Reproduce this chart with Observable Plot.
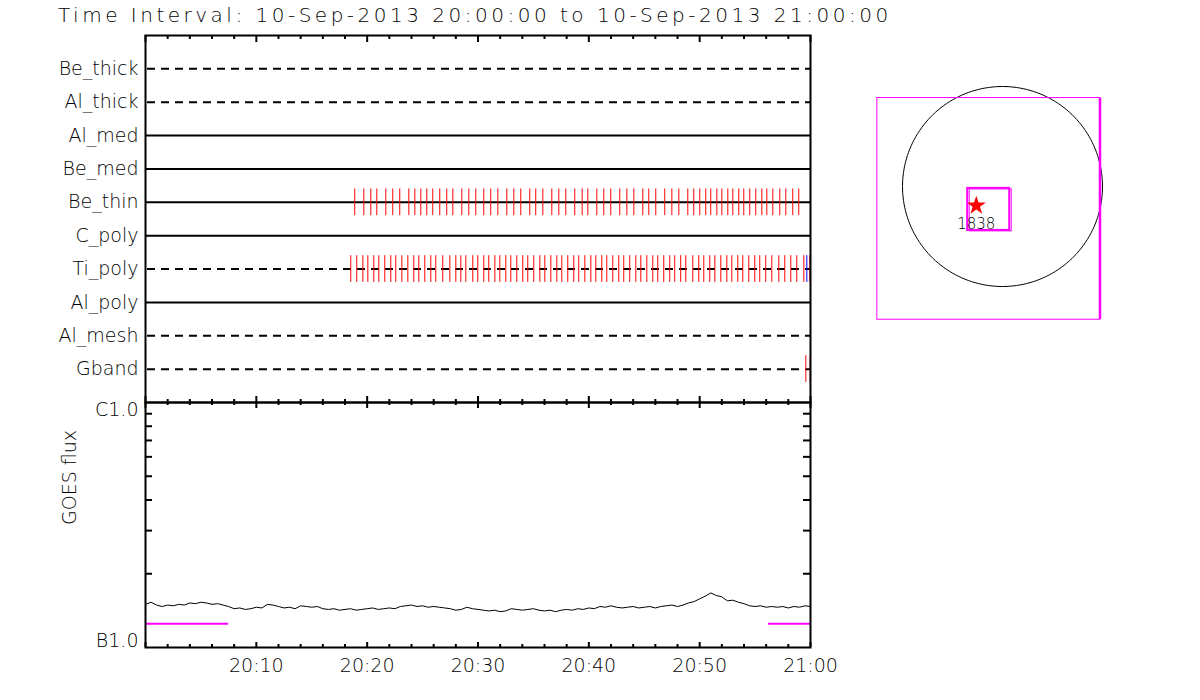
<!DOCTYPE html>
<html><head><meta charset="utf-8">
<script src="https://cdn.jsdelivr.net/npm/d3@7"></script>
<script src="https://cdn.jsdelivr.net/npm/@observablehq/plot@0.6"></script>
<style>
html,body{margin:0;padding:0;background:#fff;}
#wrap{position:relative;width:1200px;height:700px;overflow:hidden;font-family:"DejaVu Sans",sans-serif;font-weight:200;}
#title{position:absolute;left:58px;top:3px;font-size:20px;letter-spacing:3.5px;white-space:nowrap;color:#000;}
.panel{position:absolute;}
</style></head><body>
<div id="wrap">
  <div id="title">Time Interval: 10-Sep-2013 20:00:00 to 10-Sep-2013 21:00:00</div>
  <div class="panel" id="top" style="left:0;top:30px;width:830px;height:380px"></div>
  <div class="panel" id="goes" style="left:0;top:395px;width:830px;height:305px"></div>
  <div class="panel" id="sun" style="left:852px;top:36px;width:300px;height:300px"></div>
</div>
<script>
// ---------------- data ----------------
const filterNames = ["Be_thick","Al_thick","Al_med","Be_med","Be_thin","C_poly","Ti_poly","Al_poly","Al_mesh","Gband"];
const filterWheel = [2, 2, 1, 1, 1, 1, 2, 1, 2, 2];

// exposure times, minutes after 10-Sep-2013 20:00:00 UT
const beThinMinutes = [18.88,19.70,20.33,20.87,21.68,22.31,22.94,23.76,24.30,24.84,25.38,25.92,26.55,27.18,27.73,28.54,29.17,29.80,30.52,31.15,31.79,32.60,33.23,33.86,34.67,35.21,35.85,36.66,37.29,37.92,38.73,39.40,39.91,40.72,41.35,41.98,42.79,43.43,44.06,44.87,45.41,46.04,46.85,47.49,48.12,48.93,49.47,50.01,50.55,51.00,51.55,52.00,52.54,52.99,53.53,53.98,54.52,55.06,55.61,56.06,56.60,57.23,57.77,58.40,58.94];
const tiPolyMinutes = [18.52,19.06,19.61,20.06,20.60,21.05,21.59,22.13,22.58,23.13,23.67,24.21,24.66,25.20,25.74,26.19,26.82,27.46,28.00,28.45,28.90,29.53,29.98,30.52,30.97,31.52,31.97,32.51,32.96,33.50,34.04,34.49,35.03,35.58,36.03,36.57,37.11,37.56,38.10,38.64,39.09,39.64,40.18,40.63,41.17,41.62,42.16,42.70,43.15,43.69,44.24,44.69,45.23,45.77,46.22,46.76,47.30,47.75,48.29,48.75,49.38,49.92,50.37,50.91,51.37,51.91,52.45,52.90,53.44,53.89,54.43,54.97,55.42,55.96,56.51,57.14,57.68,58.22,58.76,59.40,59.94];
const tiPolyBlueMinutes = [59.67];
const gbandMinutes = [59.58, 59.97];

// GOES flux (units of 1e-7 W/m^2), sampled every 0.5 min from 20:00
const goesStepMin = 0.5;
const goesFlux = [1.50,1.53,1.49,1.47,1.49,1.48,1.50,1.49,1.52,1.51,1.53,1.52,1.50,1.51,1.49,1.47,1.44,1.45,1.43,1.44,
  1.46,1.45,1.50,1.49,1.47,1.45,1.46,1.44,1.48,1.47,1.46,1.47,1.44,1.43,1.44,1.42,1.43,1.44,1.42,1.43,
  1.44,1.45,1.43,1.44,1.45,1.44,1.47,1.48,1.49,1.47,1.48,1.46,1.47,1.46,1.45,1.44,1.42,1.43,1.46,1.44,
  1.43,1.42,1.41,1.42,1.40,1.41,1.44,1.43,1.42,1.43,1.44,1.42,1.41,1.42,1.40,1.42,1.43,1.42,1.44,1.43,
  1.45,1.44,1.47,1.46,1.48,1.46,1.45,1.46,1.47,1.45,1.46,1.47,1.45,1.47,1.48,1.49,1.47,1.49,1.52,1.54,
  1.58,1.62,1.67,1.63,1.61,1.55,1.56,1.53,1.51,1.48,1.47,1.48,1.46,1.47,1.46,1.47,1.45,1.47,1.46,1.48,1.47];
const goesLevelFlux = [1e-6, 1e-7];
const goesLevelNames = ["C1.0", "B1.0"];
const magentaStart = [0, 56.2];
const magentaEnd = [7.5, 60];
const magentaFlux = [1.25e-7, 1.25e-7];

// Sun map (arcsec)
const solarRadius = 954;
const fovBox = {x1: -1194, x2: 930, y1: -1271, y2: 844};
const arBox = {x1: -332, x2: 69, y1: -419, y2: -18};
const arBox2 = {x1: -313, x2: 88, y1: -428, y2: -28};
const arStar = {x: -250, y: -183, label: "1838"};

// ---------------- build ----------------
const t0 = Date.UTC(2013, 8, 10, 20, 0, 0);
const toTime = m => new Date(t0 + Math.round(m * 60000));
const xDomain = [toTime(0), toTime(60)];
const allTicks = d3.range(0, 61, 2).map(toTime);
const majorTicks = allTicks.filter(d => d.getUTCMinutes() % 10 === 0);
const minorTicks = allTicks.filter(d => d.getUTCMinutes() % 10 !== 0);
const labelTicks = d3.range(10, 61, 10).map(toTime);

const rows = filterNames.map((name, i) => ({name, row: i + 1, wheel: filterWheel[i]}));
const rowOf = name => filterNames.indexOf(name) + 1;
const exposures = [
  ...beThinMinutes.map(m => ({time: toTime(m), row: rowOf("Be_thin"), color: "#ff0000"})),
  ...tiPolyMinutes.map(m => ({time: toTime(m), row: rowOf("Ti_poly"), color: "#ff0000"})),
  ...tiPolyBlueMinutes.map(m => ({time: toTime(m), row: rowOf("Ti_poly"), color: "#0000ff"})),
  ...gbandMinutes.map(m => ({time: toTime(m), row: rowOf("Gband"), color: "#ff0000"}))
];

const baseStyle = "background:transparent;overflow:visible;font-family:'DejaVu Sans',sans-serif;font-size:19px;font-weight:200;color:#000;";

// top panel
const TW = 830, TH = 380, tMT = 5, tMB = 8, tML = 145, tMR = 20;
const tPH = TH - tMT - tMB;
const topPlot = Plot.plot({
  width: TW, height: TH, marginTop: tMT, marginBottom: tMB, marginLeft: tML, marginRight: tMR,
  style: baseStyle,
  x: {type: "utc", domain: xDomain, axis: null, label: null},
  y: {type: "linear", domain: [11, 0], label: null},
  color: {type: "identity"},
  marks: [
    Plot.ruleY(rows.filter(d => d.wheel === 1), {y: "row", x1: xDomain[0], x2: xDomain[1], stroke: "#000", strokeWidth: 2}),
    Plot.ruleY(rows.filter(d => d.wheel === 2), {y: "row", x1: xDomain[0], x2: xDomain[1], stroke: "#000", strokeWidth: 2, strokeDasharray: "8,6", strokeDashoffset: -2}),
    Plot.ruleX(exposures, {x: "time", y1: d => d.row - 0.4, y2: d => d.row + 0.4, stroke: "color", strokeWidth: 1}),
    Plot.ruleX(minorTicks, {x: d => d, insetBottom: tPH - 4, stroke: "#000", strokeWidth: 2}),
    Plot.ruleX(majorTicks, {x: d => d, insetBottom: tPH - 7, stroke: "#000", strokeWidth: 2}),
    Plot.ruleX(minorTicks, {x: d => d, insetTop: tPH - 3, stroke: "#000", strokeWidth: 2}),
    Plot.ruleX(majorTicks, {x: d => d, insetTop: tPH - 6, stroke: "#000", strokeWidth: 2}),
    Plot.frame({stroke: "#000", strokeWidth: 2}),
    Plot.axisY({ticks: rows.map(d => d.row), tickFormat: i => filterNames[i - 1], tickSize: 0, tickPadding: 7, fontSize: 19, label: null})
  ]
});
document.getElementById("top").appendChild(topPlot);

// GOES panel
const GW = 830, GH = 305, gMT = 7, gMB = 53, gML = 145, gMR = 20;
const gPH = GH - gMT - gMB, gPW = GW - gML - gMR;
const goes = goesFlux.map((v, i) => ({time: toTime(i * goesStepMin), flux: v * 1e-7}));
const goesLevels = goesLevelFlux.map((f, i) => ({flux: f, label: goesLevelNames[i]}));
const magenta = magentaStart.map((s, i) => ({start: toTime(s), end: toTime(magentaEnd[i]), flux: magentaFlux[i]}));
const yMinor = d3.range(2, 10).map(k => k * 1e-7);
const goesPlot = Plot.plot({
  width: GW, height: GH, marginTop: gMT, marginBottom: gMB, marginLeft: gML, marginRight: gMR,
  style: baseStyle,
  x: {type: "utc", domain: xDomain, label: null},
  y: {type: "log", domain: [1e-7, 1e-6], axis: null, label: null},
  marks: [
    Plot.ruleY(magenta, {y: "flux", x1: "start", x2: "end", stroke: "#ff00ff", strokeWidth: 2}),
    Plot.line(goes, {x: "time", y: "flux", stroke: "#000", strokeWidth: 1}),
    Plot.ruleX(minorTicks, {x: d => d, insetBottom: gPH - 3, stroke: "#000", strokeWidth: 2}),
    Plot.ruleX(majorTicks, {x: d => d, insetBottom: gPH - 6, stroke: "#000", strokeWidth: 2}),
    Plot.ruleX(minorTicks, {x: d => d, insetTop: gPH - 3, stroke: "#000", strokeWidth: 2}),
    Plot.ruleX(majorTicks, {x: d => d, insetTop: gPH - 5, stroke: "#000", strokeWidth: 2}),
    Plot.ruleY(yMinor, {y: d => d, insetRight: gPW - 7, stroke: "#000", strokeWidth: 2}),
    Plot.ruleY(yMinor, {y: d => d, insetLeft: gPW - 7, stroke: "#000", strokeWidth: 2}),
    Plot.frame({stroke: "#000", strokeWidth: 2}),
    Plot.axisX({ticks: labelTicks, tickFormat: "%H:%M", tickSize: 0, tickPadding: 11, fontSize: 19, label: null}),
    Plot.text(goesLevels.filter(d => d.label === "C1.0"), {y: "flux", text: "label", frameAnchor: "left", textAnchor: "end", dx: -7, dy: 7, fontSize: 19}),
    Plot.text(goesLevels.filter(d => d.label === "B1.0"), {y: "flux", text: "label", frameAnchor: "left", textAnchor: "end", dx: -7, dy: -7, fontSize: 19}),
    Plot.text(["GOES flux"], {text: d => d, frameAnchor: "left", rotate: -90, dx: -76, fontSize: 19})
  ]
});
document.getElementById("goes").appendChild(goesPlot);

// Sun map
const limb = d3.range(0, 361, 2).map(a => ({x: solarRadius * Math.cos(a * Math.PI / 180), y: solarRadius * Math.sin(a * Math.PI / 180)}));
const sunPlot = Plot.plot({
  width: 300, height: 300, margin: 0,
  style: baseStyle,
  x: {domain: [-1431, 1431], axis: null},
  y: {domain: [-1431, 1431], axis: null},
  marks: [
    Plot.line(limb, {x: "x", y: "y", stroke: "#000", strokeWidth: 1}),
    Plot.rect([fovBox], {x1: "x1", x2: "x2", y1: "y1", y2: "y2", fill: "none", stroke: "#ff00ff", strokeWidth: 1}),
    Plot.ruleX([fovBox], {x: "x2", y1: "y1", y2: "y2", stroke: "#ff00ff", strokeWidth: 2.5}),
    Plot.rect([arBox2], {x1: "x1", x2: "x2", y1: "y1", y2: "y2", fill: "none", stroke: "#ff00ff", strokeWidth: 1}),
    Plot.rect([arBox], {x1: "x1", x2: "x2", y1: "y1", y2: "y2", fill: "none", stroke: "#ff00ff", strokeWidth: 2}),
    Plot.dot([arStar], {x: "x", y: "y", symbol: "star", r: 6, fill: "#ff0000", stroke: "none"}),
    Plot.text([arStar], {x: "x", y: "y", text: "label", dy: 19, fontSize: 15})
  ]
});
document.getElementById("sun").appendChild(sunPlot);
</script>
</body></html>
